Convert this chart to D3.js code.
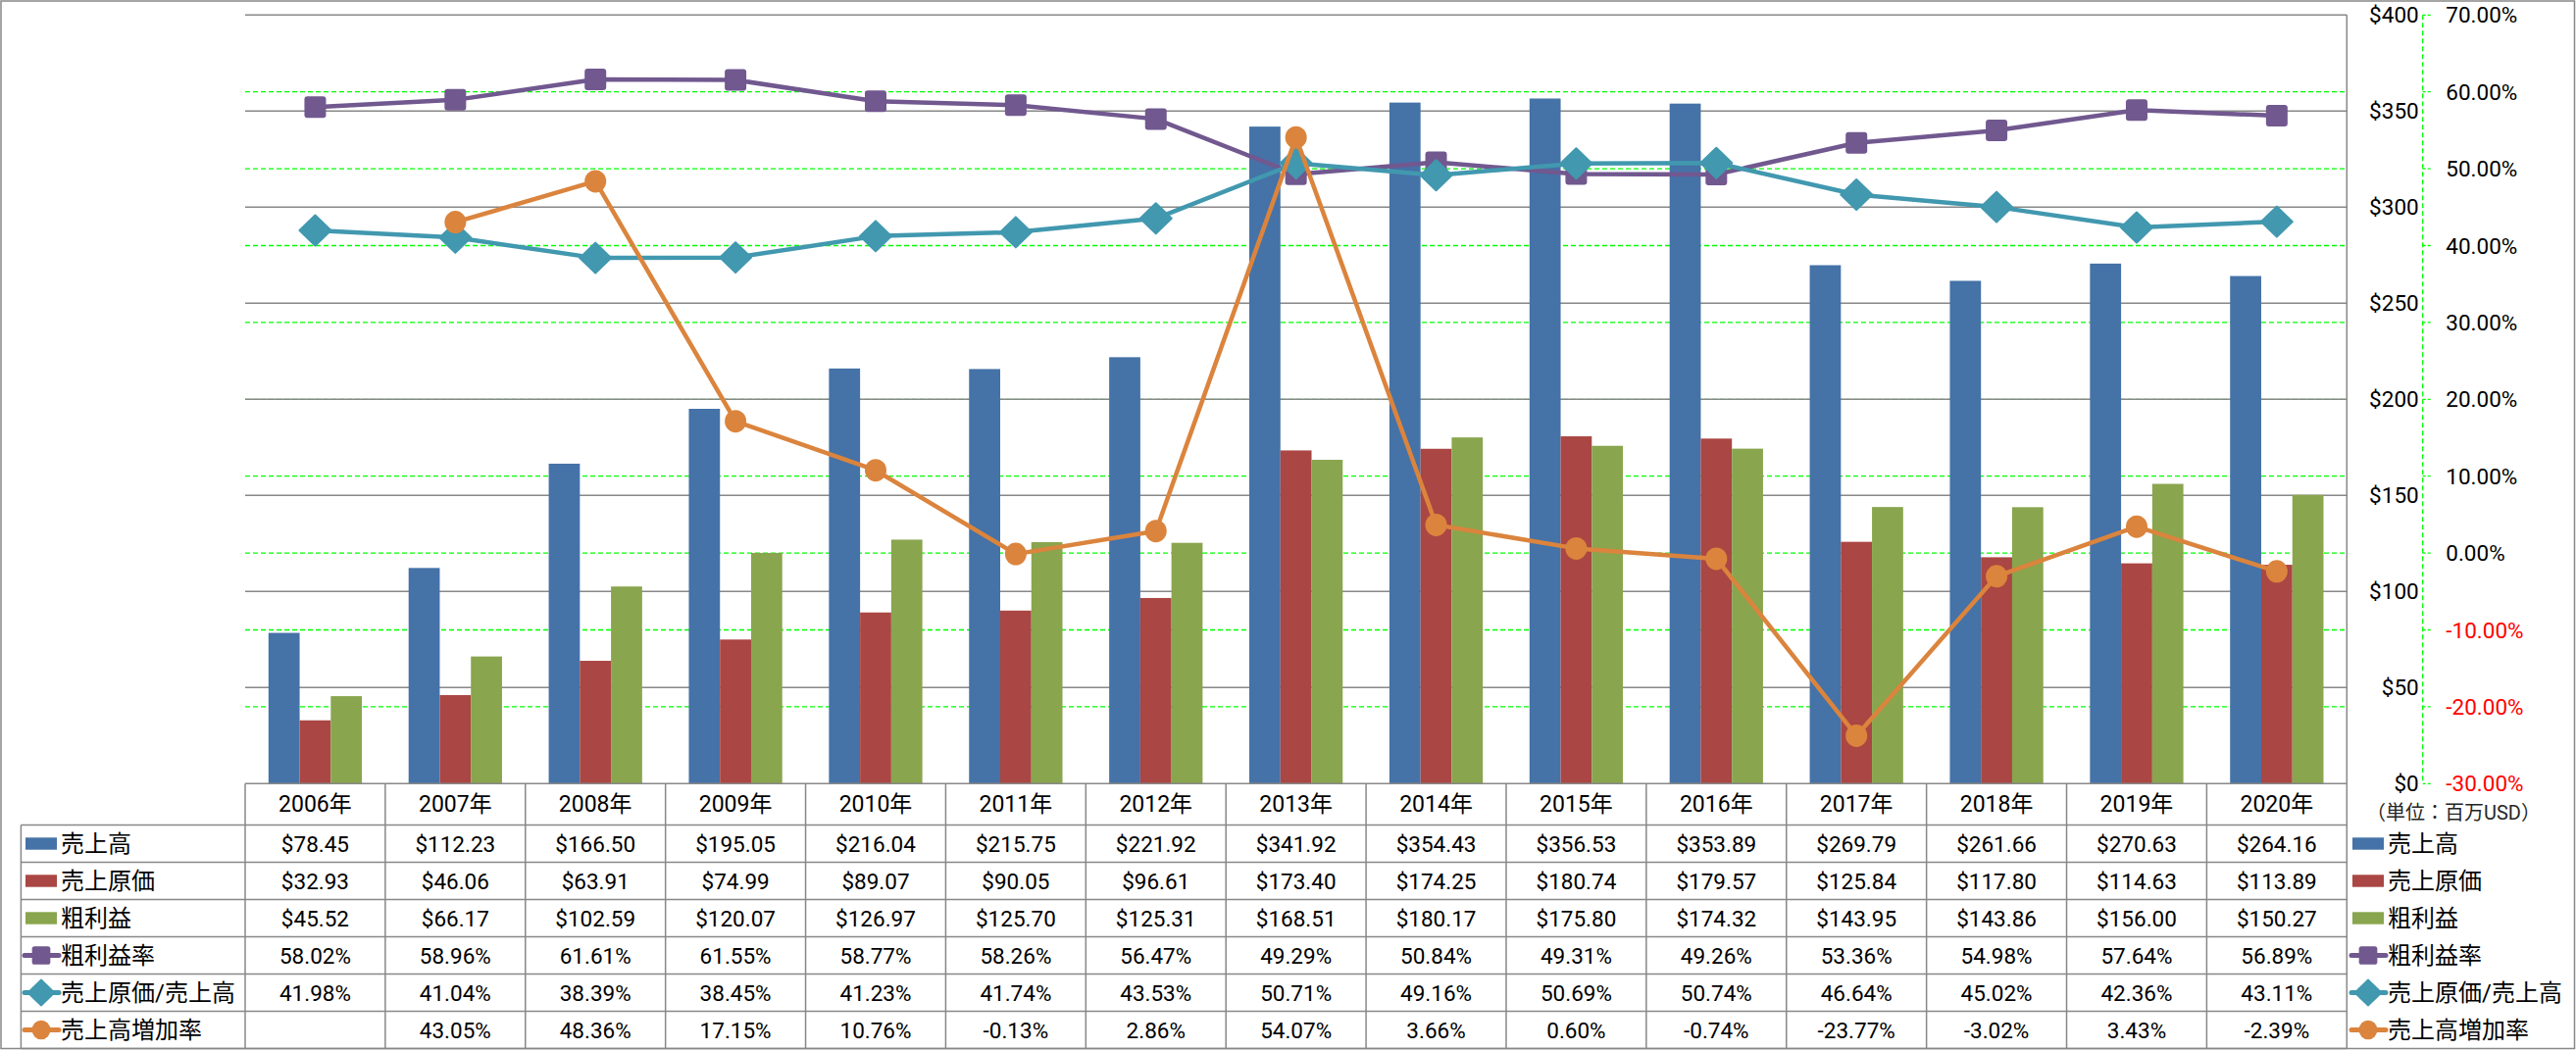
<!DOCTYPE html>
<html><head><meta charset="utf-8">
<script src="https://cdn.jsdelivr.net/npm/d3@7"></script>
<style>body{margin:0;background:#fff}svg{display:block}</style>
</head><body>
<svg id="chart" width="2627" height="1071"></svg>
<script>
const years = ["2006年","2007年","2008年","2009年","2010年","2011年","2012年","2013年","2014年","2015年","2016年","2017年","2018年","2019年","2020年"];
const sales = [78.45,112.23,166.50,195.05,216.04,215.75,221.92,341.92,354.43,356.53,353.89,269.79,261.66,270.63,264.16];
const cogs = [32.93,46.06,63.91,74.99,89.07,90.05,96.61,173.40,174.25,180.74,179.57,125.84,117.80,114.63,113.89];
const grossProfit = [45.52,66.17,102.59,120.07,126.97,125.70,125.31,168.51,180.17,175.80,174.32,143.95,143.86,156.00,150.27];
const grossMargin = [58.02,58.96,61.61,61.55,58.77,58.26,56.47,49.29,50.84,49.31,49.26,53.36,54.98,57.64,56.89];
const cogsRatio = [41.98,41.04,38.39,38.45,41.23,41.74,43.53,50.71,49.16,50.69,50.74,46.64,45.02,42.36,43.11];
const salesGrowth = [null,43.05,48.36,17.15,10.76,-0.13,2.86,54.07,3.66,0.60,-0.74,-23.77,-3.02,3.43,-2.39];
const moneyTicks = [0,50,100,150,200,250,300,350,400];
const pctTicks = [-30,-20,-10,0,10,20,30,40,50,60,70];
const unitLabel = "（単位：百万USD）";

const barSeries = [
  {name:"売上高", values:sales, color:"#4572A7"},
  {name:"売上原価", values:cogs, color:"#AA4643"},
  {name:"粗利益", values:grossProfit, color:"#89A54E"}
];
const lineSeries = [
  {name:"粗利益率", values:grossMargin, color:"#71588F", marker:"square"},
  {name:"売上原価/売上高", values:cogsRatio, color:"#4198AF", marker:"diamond"},
  {name:"売上高増加率", values:salesGrowth, color:"#DB843D", marker:"circle"}
];

const FONT = "Roboto, 'Noto Sans CJK JP', sans-serif";
const svg = d3.select("#chart");
const L = 250, R = 2393.3, T = 15.3, B = 799.3;
const grid = "#888888";

const x = d3.scaleBand().domain(years).range([L, R]).paddingInner(0).paddingOuter(0);
const xb = d3.scaleBand().domain(barSeries.map(d=>d.name)).range([0, x.bandwidth()]).paddingInner(0).paddingOuter(0.75);
const y = d3.scaleLinear().domain([0,400]).range([B, T]);
const y2 = d3.scaleLinear().domain([-30,70]).range([B, T]);

// outer border
svg.append("rect").attr("x",1).attr("y",1).attr("width",2624.5).attr("height",1068.5)
  .attr("fill","none").attr("stroke",grid).attr("stroke-width",1.5);

// green dashed percent gridlines
svg.append("g").selectAll("line").data(pctTicks.filter(t=>t>-30 && t<70)).join("line")
  .attr("x1",L).attr("x2",R).attr("y1",d=>y2(d)).attr("y2",d=>y2(d))
  .attr("stroke","#00FF00").attr("stroke-width",1.3).attr("stroke-dasharray","5,3");

// gray money gridlines
svg.append("g").selectAll("line").data(moneyTicks.filter(t=>t>0)).join("line")
  .attr("x1",L).attr("x2",R).attr("y1",d=>y(d)).attr("y2",d=>y(d))
  .attr("stroke",grid).attr("stroke-width",1.5);
svg.append("line").attr("x1",R).attr("x2",R).attr("y1",T).attr("y2",B).attr("stroke",grid).attr("stroke-width",1.5);

// bars
barSeries.forEach(s=>{
  svg.append("g").selectAll("rect").data(s.values).join("rect")
    .attr("x",(d,i)=>x(years[i])+xb(s.name)).attr("width",xb.bandwidth())
    .attr("y",d=>y(d)).attr("height",d=>B-y(d)).attr("fill",s.color);
});

function marker(g, type, cx, cy, color, k=1){
  if(type==="square"){
    const s=22*k;
    g.append("rect").attr("x",cx-s/2).attr("y",cy-s/2).attr("width",s).attr("height",s).attr("rx",3*k).attr("fill",color);
  } else if(type==="diamond"){
    const w=16*k,h=15.5*k;
    g.append("path").attr("d",`M${cx-w},${cy}L${cx},${cy-h}L${cx+w},${cy}L${cx},${cy+h}Z`).attr("fill",color).attr("stroke",color).attr("stroke-linejoin","round").attr("stroke-width",2*k);
  } else {
    g.append("ellipse").attr("cx",cx).attr("cy",cy).attr("rx",11*k).attr("ry",11.5*k).attr("fill",color);
  }
}

// lines
lineSeries.forEach(s=>{
  const g = svg.append("g");
  const pts = s.values.map((v,i)=>({v,i})).filter(d=>d.v!==null);
  const line = d3.line().x(d=>x(years[d.i])+x.bandwidth()/2).y(d=>y2(d.v));
  g.append("path").attr("d",line(pts)).attr("fill","none").attr("stroke",s.color).attr("stroke-width",4.5).attr("stroke-linejoin","round");
  pts.forEach(d=>marker(g,s.marker,x(years[d.i])+x.bandwidth()/2,y2(d.v),s.color));
});

// right axes
const ax = svg.append("g").attr("font-family",FONT).attr("font-size",22.5);
ax.selectAll("text.m").data(moneyTicks).join("text").attr("class","m")
  .attr("x",2466.7).attr("y",d=>y(d)).attr("text-anchor","end").attr("dominant-baseline","central")
  .attr("fill","#000").text(d=>"$"+d);
const AX = 2470.7;
ax.append("line").attr("x1",AX).attr("x2",AX).attr("y1",T).attr("y2",B)
  .attr("stroke","#00FF00").attr("stroke-width",1.3).attr("stroke-dasharray","5,3");
ax.selectAll("line.t").data(pctTicks).join("line").attr("class","t")
  .attr("x1",AX).attr("x2",AX+8).attr("y1",d=>y2(d)).attr("y2",d=>y2(d))
  .attr("stroke","#00FF00").attr("stroke-width",1.3).attr("stroke-dasharray","3,2");
ax.selectAll("text.p").data(pctTicks).join("text").attr("class","p")
  .attr("x",2494.3).attr("y",d=>y2(d)).attr("dominant-baseline","central")
  .attr("fill",d=>d<0?"#FF0000":"#000").text(d=>d.toFixed(2)+"%");

svg.append("text").attr("x",2413).attr("y",829).attr("dominant-baseline","central")
  .attr("font-family",FONT).attr("font-size",20).attr("fill","#262626").text(unitLabel);

// data table
const headH = 42.2, rowH = 38;
const tb = svg.append("g").attr("font-family",FONT).attr("font-size",22.5);
const rowsTop = B + headH;
const allRows = [
  ...barSeries.map(s=>({...s, fmt:v=>"$"+v.toFixed(2), kind:"bar"})),
  ...lineSeries.map(s=>({...s, fmt:v=>v===null?"":v.toFixed(2)+"%", kind:"line"}))
];
const tableBottom = rowsTop + allRows.length*rowH;
// vertical lines
years.concat(["end"]).forEach((yr,i)=>{
  const xx = L + i*x.bandwidth();
  tb.append("line").attr("x1",xx).attr("x2",xx).attr("y1",B).attr("y2",tableBottom).attr("stroke",grid).attr("stroke-width",1.5);
});
tb.append("line").attr("x1",21.4).attr("x2",21.4).attr("y1",rowsTop).attr("y2",tableBottom).attr("stroke",grid).attr("stroke-width",1.5);
tb.append("line").attr("x1",L).attr("x2",R).attr("y1",B).attr("y2",B).attr("stroke",grid).attr("stroke-width",1.5);
d3.range(allRows.length+1).forEach(r=>{
  const yy = rowsTop + r*rowH;
  tb.append("line").attr("x1",21.4).attr("x2",R).attr("y1",yy).attr("y2",yy).attr("stroke",grid).attr("stroke-width",1.5);
});
// header
tb.selectAll("text.h").data(years).join("text").attr("class","h")
  .attr("x",d=>x(d)+x.bandwidth()/2).attr("y",B+headH/2).attr("text-anchor","middle")
  .attr("dominant-baseline","central").attr("font-size",23).attr("fill","#000").text(d=>d);

function legendKey(g, s, x0, x1, cy){
  if(s.kind==="bar"){
    g.append("rect").attr("x",x0).attr("y",cy-6.2).attr("width",x1-x0).attr("height",12.4).attr("fill",s.color);
  } else {
    g.append("line").attr("x1",x0-1).attr("x2",x1+2).attr("y1",cy).attr("y2",cy).attr("stroke",s.color).attr("stroke-width",5).attr("stroke-linecap","round");
    marker(g, s.marker, (x0+x1)/2, cy, s.color, 0.85);
  }
}
allRows.forEach((s,r)=>{
  const cy = rowsTop + r*rowH + rowH/2;
  legendKey(tb, s, 26, 58, cy);
  tb.append("text").attr("x",62).attr("y",cy).attr("dominant-baseline","central").attr("font-size",24).attr("fill","#000").text(s.name);
  tb.append("g").selectAll("text").data(s.values).join("text")
    .attr("x",(d,i)=>x(years[i])+x.bandwidth()/2).attr("y",cy).attr("text-anchor","middle")
    .attr("dominant-baseline","central").attr("fill","#000").text(d=>s.fmt(d));
  legendKey(tb, s, 2399, 2431, cy);
  tb.append("text").attr("x",2435).attr("y",cy).attr("dominant-baseline","central").attr("font-size",24).attr("fill","#000").text(s.name);
});
</script>
</body></html>
